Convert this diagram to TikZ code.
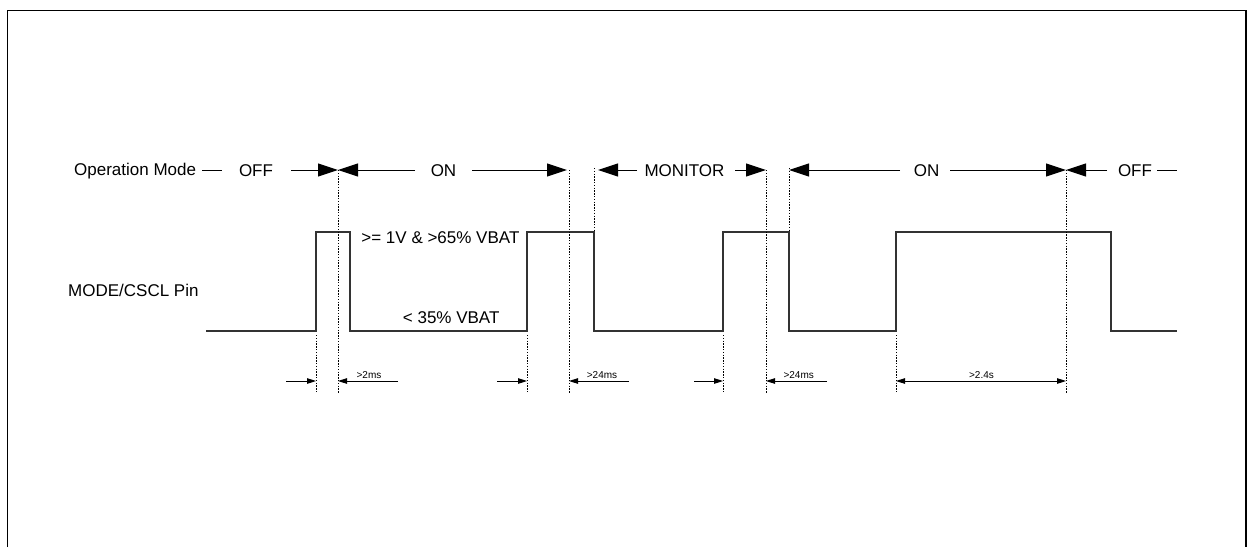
\documentclass[tikz,border=0pt]{standalone}
\usepackage{fontspec}
\setmainfont{Liberation Sans}
\usetikzlibrary{arrows.meta}
\begin{document}
\begin{tikzpicture}[x=1pt,y=-1pt,
  bigarrow/.style={-{Triangle[length=20pt,width=13pt]}, line width=1pt},
  seg/.style={line width=1pt},
  smallarrow/.style={-{Triangle[length=9pt,width=5.5pt]}, line width=0.9pt},
  dblarrow/.style={{Triangle[length=9pt,width=5.5pt]}-{Triangle[length=9pt,width=5.5pt]}, line width=0.9pt},
  dotline/.style={dash pattern=on 1.4pt off 1.4pt, line width=0.9pt},
  wave/.style={line width=1.3pt, black!80, line join=miter},
  frame/.style={line width=1.6pt},
  lbl/.style={font=\fontsize{17}{20}\selectfont, inner sep=0pt, text height=12.2pt, text depth=0pt},
  tinylbl/.style={font=\fontsize{10}{12}\selectfont, inner sep=0pt, text height=7.2pt, text depth=0pt}]
\useasboundingbox (0,0) rectangle (1247,547);
% frame
\draw[frame] (7.5,547) -- (7.5,10.5) -- (1246,10.5) -- (1246,547);

% labels
\node[lbl, anchor=west] (opmode) at (74,169.5) {Operation Mode};
\node[lbl, anchor=west] (pin) at (68,290) {MODE/CSCL Pin};

% operation mode row
\draw[seg] (202,170) -- (222,170);
\node[lbl] (off1) at (256,170) {OFF};
\draw[bigarrow] (291,170) -- (338,170);
\draw[bigarrow] (415,170) -- (338,170);
\node[lbl] (on1) at (443.5,170) {ON};
\draw[bigarrow] (472,170) -- (567,170);
\draw[bigarrow] (637,170) -- (598,170);
\node[lbl] (mon) at (684.5,170) {MONITOR};
\draw[bigarrow] (735,170) -- (766,170);
\draw[bigarrow] (900,170) -- (789,170);
\node[lbl] (on2) at (926.7,170) {ON};
\draw[bigarrow] (950,170) -- (1066,170);
\draw[bigarrow] (1107,170) -- (1066,170);
\node[lbl] (off2) at (1135,170) {OFF};
\draw[seg] (1157,170) -- (1177,170);

% waveform
\draw[wave] (206,331) -- (316,331) -- (316,232) -- (350,232) -- (350,331)
  -- (527,331) -- (527,232) -- (594,232) -- (594,331)
  -- (723,331) -- (723,232) -- (789,232) -- (789,331)
  -- (896,331) -- (896,232) -- (1111,232) -- (1111,331) -- (1177,331);
\node[lbl] (hi) at (440.4,237.3) {>= 1V \& >65\% VBAT};
\node[lbl] (lo) at (451.2,317.7) {< 35\% VBAT};

% dotted markers
\draw[dotline] (316,335) -- (316,393);
\draw[dotline] (338,170) -- (338,393);
\draw[dotline] (527,335) -- (527,393);
\draw[dotline] (569,170) -- (569,393);
\draw[dotline] (594,168) -- (594,230);
\draw[dotline] (723,335) -- (723,393);
\draw[dotline] (766,170) -- (766,393);
\draw[dotline] (789,168) -- (789,230);
\draw[dotline] (896,335) -- (896,393);
\draw[dotline] (1066,170) -- (1066,393);

% timing arrows
\draw[smallarrow] (286,381) -- (316,381);
\draw[smallarrow] (398,381) -- (338,381);
\node[tinylbl] (t1) at (369,374.5) {>2ms};
\draw[smallarrow] (497,381) -- (527,381);
\draw[smallarrow] (629,381) -- (569,381);
\node[tinylbl] (t2) at (602,374.5) {>24ms};
\draw[smallarrow] (694,381) -- (723,381);
\draw[smallarrow] (827,381) -- (766,381);
\node[tinylbl] (t3) at (798.7,374.5) {>24ms};
\draw[dblarrow] (896,381) -- (1066,381);
\node[tinylbl] (t4) at (981.5,374.5) {>2.4s};
\end{tikzpicture}
\end{document}
